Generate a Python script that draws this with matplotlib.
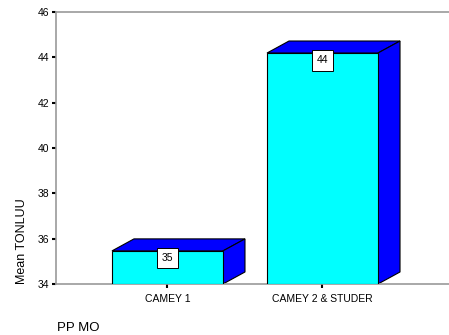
import matplotlib.pyplot as plt
from matplotlib.patches import Polygon

plt.rcParams['font.family'] = ['Liberation Sans', 'DejaVu Sans']

# mean TONLUU by PP MO group
groups = ['CAMEY 1', 'CAMEY 2 & STUDER']
means = [35.46, 44.19]
labels = ['35', '44']

front_color = '#00ffff'
side_color = '#0000ff'

fig = plt.figure(figsize=(4.49, 3.35), dpi=100)
ax = fig.add_axes([56 / 449, 1 - 284 / 335, 1 - 56 / 449, 272 / 335])

ax.set_ylim(34, 46)
ax.set_xlim(-0.719, 1.816)

width = 0.716
dx = 0.142   # depth offset, x
dy = 0.53    # depth offset, y
base = 34

x = list(range(len(groups)))
ax.bar(x, [m - base for m in means], bottom=base, width=width,
       color=front_color, edgecolor='black', linewidth=0.8, zorder=3)

for xi, m, lab in zip(x, means, labels):
    left = xi - width / 2
    right = xi + width / 2
    top = Polygon([(left, m), (left + dx, m + dy), (right + dx, m + dy), (right, m)],
                  closed=True, facecolor=side_color, edgecolor='black', linewidth=0.8, zorder=2)
    side = Polygon([(right, base), (right + dx, base + dy), (right + dx, m + dy), (right, m)],
                   closed=True, facecolor=side_color, edgecolor='black', linewidth=0.8, zorder=2)
    ax.add_patch(top)
    ax.add_patch(side)
    ax.text(xi, m - 0.1, lab, ha='center', va='top', fontsize=7.5, zorder=5,
            bbox=dict(boxstyle='square,pad=0.5', facecolor='white', edgecolor='black', linewidth=0.7))

ax.set_xticks(x)
ax.set_xticklabels(groups, fontsize=7.5)
ax.set_yticks(range(34, 47, 2))
ax.tick_params(axis='y', labelsize=7.5, length=3, width=1.5, color='black', pad=2)
ax.tick_params(axis='x', length=3, width=1.5, color='black', pad=4)

for s in ['left', 'top', 'bottom']:
    ax.spines[s].set_color('#999999')
    ax.spines[s].set_linewidth(1.2)
ax.spines['right'].set_visible(False)

fig.text(22 / 449, 1 - 241 / 335, 'Mean TONLUU', rotation=90, ha='center', va='center', fontsize=9)
fig.text(57 / 449, 1 - 328 / 335, 'PP MO', ha='left', va='center', fontsize=9.5)

fig.savefig('out.png', dpi=100)
